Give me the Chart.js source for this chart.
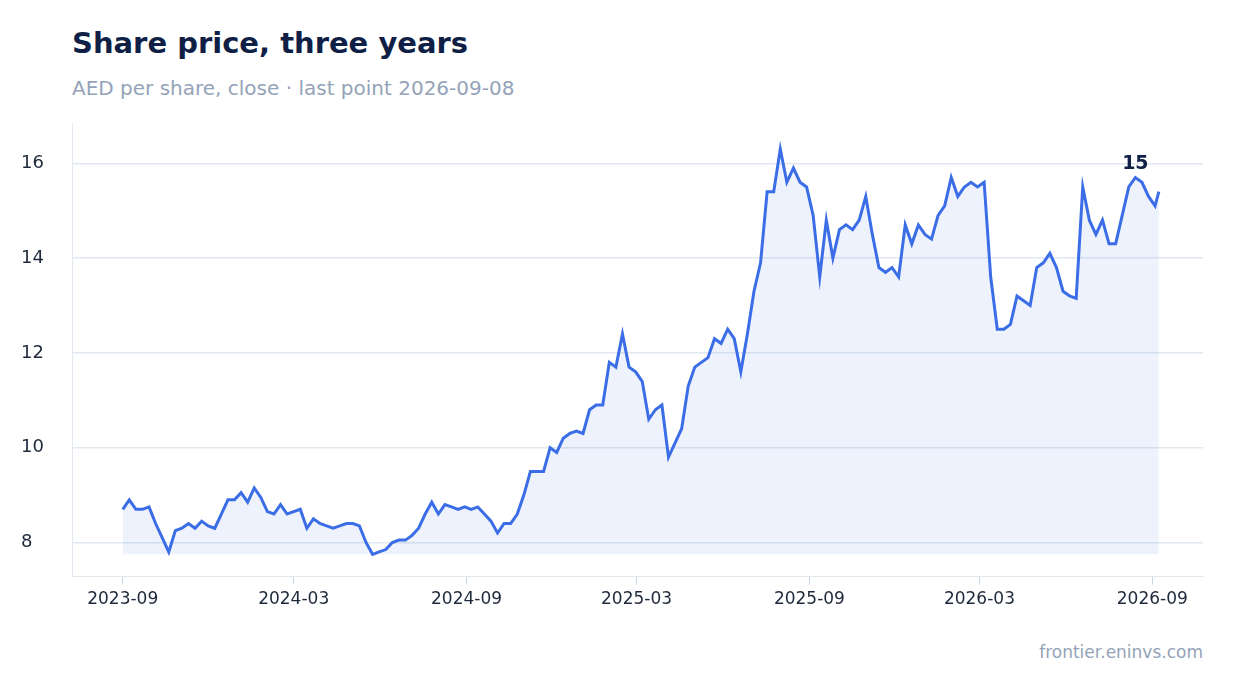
<!DOCTYPE html>
<html><head><meta charset="utf-8">
<script src="https://cdn.jsdelivr.net/npm/chart.js@4"></script>
<style>
body{margin:0;background:#fff;font-family:"DejaVu Sans",sans-serif;}
#wrap{position:relative;width:1234px;height:693px;}
#t{position:absolute;left:72px;top:26px;font-size:29px;font-weight:bold;color:#0f1f45;}
#s{position:absolute;left:72px;top:76px;font-size:20px;color:#94a3b8;}
#f{position:absolute;right:31px;top:642px;font-size:17px;color:#94a3b8;}
canvas{position:absolute;left:0;top:0;}
</style></head><body>
<div id="wrap"><div id="t">Share price, three years</div><div id="s">AED per share, close · last point 2026-09-08</div><div id="f">frontier.eninvs.com</div>
<canvas id="c" width="1234" height="693"></canvas></div>
<script>
const startDate = "2023-09-01";
const lastDate = "2026-09-08";
const prices = [8.7,8.9,8.7,8.7,8.75,8.4,8.1,7.8,8.25,8.3,8.4,8.3,8.45,8.35,8.3,8.6,8.9,8.9,9.05,8.85,9.15,8.95,8.65,8.6,8.8,8.6,8.65,8.7,8.3,8.5,8.4,8.35,8.3,8.35,8.4,8.4,8.35,8.0,7.75,7.8,7.85,8.0,8.05,8.05,8.15,8.3,8.6,8.85,8.6,8.8,8.75,8.7,8.75,8.7,8.75,8.6,8.45,8.2,8.4,8.4,8.6,9.0,9.5,9.5,9.5,10.0,9.9,10.2,10.3,10.35,10.3,10.8,10.9,10.9,11.8,11.7,12.4,11.7,11.6,11.4,10.6,10.8,10.9,9.8,10.1,10.4,11.3,11.7,11.8,11.9,12.3,12.2,12.5,12.3,11.6,12.4,13.3,13.9,15.4,15.4,16.3,15.6,15.9,15.6,15.5,14.9,13.6,14.8,14.0,14.6,14.7,14.6,14.8,15.3,14.5,13.8,13.7,13.8,13.6,14.7,14.3,14.7,14.5,14.4,14.9,15.1,15.7,15.3,15.5,15.6,15.5,15.6,13.6,12.5,12.5,12.6,13.2,13.1,13.0,13.8,13.9,14.1,13.8,13.3,13.2,13.15,15.5,14.8,14.5,14.8,14.3,14.3,14.9,15.5,15.7,15.6,15.3,15.1,15.4];
const tickMonths = ["2023-09","2024-03","2024-09","2025-03","2025-09","2026-03","2026-09"];
const labelIndex = 154;
const labelText = "15";

const DAY=86400000, t0=Date.parse(startDate);
const lastDay=(Date.parse(lastDate)-t0)/DAY;
const pts = prices.map((v,i)=>({x: i===prices.length-1 ? lastDay : i*7, y:v}));
const tickDays = tickMonths.map(m=>(Date.parse(m+"-01")-t0)/DAY);
const minV = Math.min(...prices);

const labelPlugin={id:'lbl',afterDatasetsDraw(ch){
  const m=ch.getDatasetMeta(0).data[labelIndex];const c=ch.ctx;
  c.save();c.font='bold 19px "DejaVu Sans"';c.fillStyle='#0f1f45';c.textAlign='center';c.textBaseline='bottom';
  c.fillText(labelText,m.x,m.y-4);c.restore();}};
const leftLine={id:'ll',beforeDatasetsDraw(ch){const a=ch.chartArea,c=ch.ctx;
  c.save();c.strokeStyle='#e2e8f0';c.lineWidth=1;c.beginPath();c.moveTo(a.left+0.5,a.top);c.lineTo(a.left+0.5,a.bottom);c.stroke();c.restore();}};

new Chart(document.getElementById('c'),{
  type:'line',
  data:{datasets:[{data:pts,borderColor:'#3b6de6',borderWidth:3,pointRadius:0,tension:0,
    fill:{value:minV},backgroundColor:'rgba(59,109,230,0.09)'}]},
  options:{responsive:false,animation:false,
    layout:{padding:{top:123,left:72,right:31,bottom:78}},
    plugins:{legend:{display:false},tooltip:{enabled:false}},
    scales:{
      x:{type:'linear',min:-54,max:1150,
        afterBuildTicks(ax){ax.ticks=tickDays.map(v=>({value:v}));},
        ticks:{callback:(v)=>tickMonths[tickDays.indexOf(v)]||'',color:'#1e293b',font:{size:17,family:'DejaVu Sans'},padding:5,maxRotation:0,autoSkip:false},
        grid:{display:true,drawOnChartArea:false,drawTicks:true,tickLength:8,color:'#cbd5e1'},
        border:{color:'#e2e8f0'}},
      y:{min:7.28,max:16.85,
        afterBuildTicks(ax){ax.ticks=[8,10,12,14,16].map(v=>({value:v}));},
        ticks:{mirror:true,padding:-17,color:'#1e293b',font:{size:18,family:'DejaVu Sans'}},
        grid:{color:'#e2e8f0',lineWidth:1.5,drawTicks:false},
        border:{display:false}}
    }},
  plugins:[labelPlugin,leftLine]
});
</script></body></html>
